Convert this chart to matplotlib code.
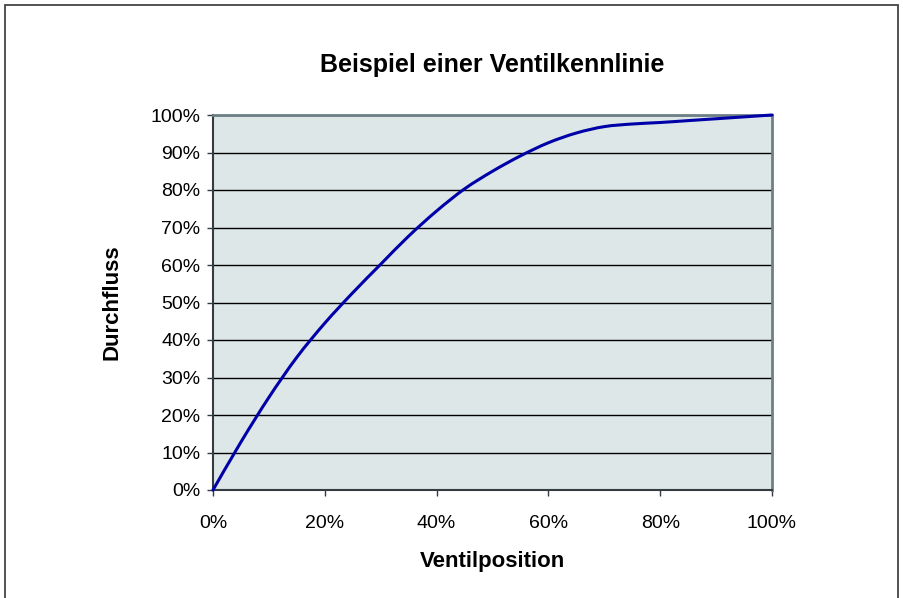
import matplotlib
matplotlib.use("Agg")
import matplotlib.pyplot as plt
from matplotlib.patches import Rectangle, PathPatch
from matplotlib.path import Path
from matplotlib.ticker import FuncFormatter, MultipleLocator

plt.rcParams['font.family'] = ['Liberation Sans', 'DejaVu Sans']

# Data (valve position % -> flow %)
ventilposition = [0, 5, 10, 15, 20, 25, 30, 35, 40, 45, 50, 55, 60, 65, 70, 75, 80, 85, 90, 95, 100]
durchfluss = [0, 12.8, 24.7, 35.4, 44.5, 52.6, 60.2, 67.7, 74.4, 80.3, 85.0, 89.1, 92.6, 95.2, 96.9, 97.6, 98.0, 98.5, 99.0, 99.5, 100]

title = "Beispiel einer Ventilkennlinie"
xlabel = "Ventilposition"
ylabel = "Durchfluss"

W, H = 904, 598
fig = plt.figure(figsize=(W / 100, H / 100), dpi=100)
ax = fig.add_axes([213 / W, 1 - 490 / H, (772 - 213) / W, (490 - 115) / H])

ax.set_facecolor('#dde7e7')

# smoothed line (Excel-style Bezier smoothing through the data points)
n = len(ventilposition)
verts = [(ventilposition[0], durchfluss[0])]
codes = [Path.MOVETO]
for i in range(n - 1):
    x0, y0 = ventilposition[i], durchfluss[i]
    x1, y1 = ventilposition[i + 1], durchfluss[i + 1]
    xp, yp = (ventilposition[i - 1], durchfluss[i - 1]) if i > 0 else (x0, y0)
    xn, yn = (ventilposition[i + 2], durchfluss[i + 2]) if i + 2 < n else (x1, y1)
    c1 = (x0 + (x1 - xp) / 6, y0 + (y1 - yp) / 6)
    c2 = (x1 - (xn - x0) / 6, y1 - (yn - y0) / 6)
    verts += [c1, c2, (x1, y1)]
    codes += [Path.CURVE4] * 3
ax.add_patch(PathPatch(Path(verts, codes), fill=False, edgecolor='#0000a8',
                       lw=2.2, zorder=3, clip_on=False, capstyle='round'))

ax.set_xlim(0, 100)
ax.set_ylim(0, 100)
ax.xaxis.set_major_locator(MultipleLocator(20))
ax.yaxis.set_major_locator(MultipleLocator(10))
pct = FuncFormatter(lambda v, p: f"{v:.0f}%")
ax.xaxis.set_major_formatter(pct)
ax.yaxis.set_major_formatter(pct)

ax.grid(axis='y', color='black', lw=1.0, zorder=1)
ax.set_axisbelow(True)

for s in ['left', 'bottom']:
    ax.spines[s].set_color('#333c40')
    ax.spines[s].set_linewidth(1.5)
for s in ['top', 'right']:
    ax.spines[s].set_color('#6f7f86')
    ax.spines[s].set_linewidth(2.0)

ax.tick_params(direction='out', length=4, width=1.0, color='#333c40', labelsize=14)
ax.tick_params(axis='x', pad=14)
ax.tick_params(axis='y', pad=5)

ax.set_title(title, fontsize=18, fontweight='bold', pad=31)
ax.set_xlabel(xlabel, fontsize=16, fontweight='bold', labelpad=14)
ax.set_ylabel(ylabel, fontsize=16, fontweight='bold', labelpad=20)

# outer chart frame
fig.patches.append(Rectangle((5 / W, -0.02), (898 - 5) / W, (593 / H) + 0.02,
                             transform=fig.transFigure, fill=False,
                             edgecolor='#444444', lw=1.3))

fig.savefig("out.png", dpi=100)
